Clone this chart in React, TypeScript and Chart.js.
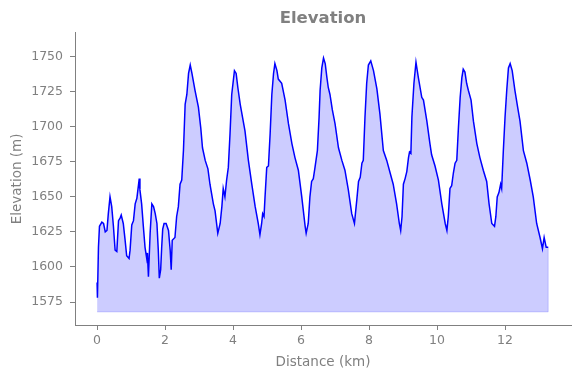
import React, { useEffect, useRef } from "react";
import { Chart, registerables } from "chart.js";
Chart.register(...registerables);

const distanceKm = [
  0.00, 0.01, 0.04, 0.07, 0.14, 0.19, 0.24, 0.29, 0.33, 0.38,
  0.43, 0.48, 0.53, 0.58, 0.63, 0.68, 0.71, 0.77, 0.82, 0.87,
  0.94, 0.97, 1.02, 1.07, 1.12, 1.17, 1.20, 1.24, 1.26, 1.31,
  1.36, 1.41, 1.46, 1.48, 1.51, 1.56, 1.61, 1.66, 1.71, 1.76,
  1.80, 1.83, 1.87, 1.90, 1.93, 1.97, 2.03, 2.10, 2.15, 2.18,
  2.21, 2.29, 2.34, 2.39, 2.44, 2.49, 2.54, 2.59, 2.64, 2.69,
  2.74, 2.79, 2.88, 2.98, 3.05, 3.10, 3.18, 3.26, 3.32, 3.42,
  3.47, 3.55, 3.62, 3.67, 3.71, 3.76, 3.81, 3.86, 3.91, 3.96,
  4.04, 4.09, 4.14, 4.21, 4.35, 4.45, 4.55, 4.65, 4.74, 4.79,
  4.84, 4.87, 4.91, 4.94, 4.99, 5.04, 5.09, 5.14, 5.19, 5.23,
  5.29, 5.33, 5.43, 5.53, 5.63, 5.73, 5.82, 5.92, 6.02, 6.12,
  6.15, 6.21, 6.26, 6.31, 6.36, 6.41, 6.48, 6.53, 6.56, 6.61,
  6.66, 6.71, 6.76, 6.80, 6.85, 6.92, 7.00, 7.10, 7.20, 7.29,
  7.39, 7.49, 7.57, 7.64, 7.69, 7.74, 7.79, 7.83, 7.88, 7.93,
  7.98, 8.05, 8.13, 8.23, 8.32, 8.42, 8.52, 8.62, 8.71, 8.81,
  8.89, 8.93, 8.97, 9.01, 9.06, 9.11, 9.16, 9.19, 9.23, 9.26,
  9.32, 9.38, 9.45, 9.55, 9.60, 9.70, 9.79, 9.84, 9.94, 10.04,
  10.14, 10.24, 10.29, 10.33, 10.38, 10.43, 10.48, 10.53, 10.58, 10.63,
  10.68, 10.73, 10.77, 10.82, 10.87, 10.92, 11.00, 11.07, 11.17, 11.26,
  11.36, 11.46, 11.53, 11.61, 11.69, 11.73, 11.77, 11.82, 11.87, 11.90,
  11.95, 12.00, 12.05, 12.10, 12.15, 12.21, 12.29, 12.37, 12.44, 12.54,
  12.64, 12.74, 12.83, 12.93, 13.03, 13.10, 13.15, 13.21, 13.27,
];

const elevationM = [
  1589, 1578, 1614, 1629, 1632, 1631, 1625, 1626, 1638, 1650,
  1643, 1629, 1612, 1611, 1633, 1635, 1637, 1631, 1620, 1608,
  1606, 1612, 1630, 1633, 1645, 1649, 1655, 1663, 1655, 1645,
  1629, 1614, 1606, 1610, 1593, 1624, 1645, 1643, 1638, 1631,
  1612, 1592, 1598, 1614, 1627, 1631, 1631, 1626, 1612, 1598,
  1619, 1621, 1636, 1643, 1659, 1662, 1683, 1716, 1723, 1738,
  1744, 1738, 1726, 1714, 1699, 1685, 1676, 1670, 1659, 1645,
  1640, 1624, 1631, 1643, 1656, 1650, 1662, 1671, 1695, 1723,
  1740, 1738, 1728, 1716, 1697, 1676, 1659, 1643, 1631, 1623,
  1631, 1638, 1636, 1650, 1671, 1672, 1695, 1723, 1738, 1745,
  1740, 1734, 1731, 1719, 1702, 1688, 1678, 1669, 1650, 1629,
  1624, 1631, 1650, 1661, 1663, 1671, 1683, 1707, 1726, 1742,
  1749, 1745, 1735, 1728, 1723, 1712, 1702, 1685, 1676, 1669,
  1655, 1638, 1631, 1648, 1661, 1664, 1674, 1676, 1707, 1731,
  1744, 1747, 1740, 1727, 1709, 1683, 1676, 1667, 1659, 1645,
  1631, 1626, 1636, 1659, 1663, 1668, 1678, 1682, 1681, 1707,
  1731, 1746, 1735, 1721, 1719, 1704, 1688, 1680, 1672, 1662,
  1645, 1631, 1626, 1636, 1656, 1658, 1667, 1674, 1676, 1700,
  1721, 1735, 1741, 1739, 1731, 1726, 1719, 1704, 1688, 1678,
  1669, 1661, 1645, 1631, 1629, 1636, 1650, 1653, 1659, 1656,
  1683, 1707, 1726, 1742, 1745, 1740, 1726, 1714, 1704, 1683,
  1674, 1662, 1650, 1631, 1621, 1613, 1621, 1614, 1614,
];

const baseElevation = 1568;
const xTicks = [0, 2, 4, 6, 8, 10, 12];
const yTicks = [1575, 1600, 1625, 1650, 1675, 1700, 1725, 1750];
const xRange = [-0.65, 13.94];
const yRange = [1558.6, 1767];

const FONT = "'DejaVu Sans', sans-serif";
const GRAY = "#808080";

export default function App() {
  const ref = useRef<HTMLCanvasElement>(null);
  useEffect(() => {
    const profile = distanceKm.map((x, i) => ({ x, y: elevationM[i] }));
    const last = distanceKm.length - 1;
    const edge = [
      { x: distanceKm[0], y: baseElevation },
      { x: distanceKm[last], y: baseElevation },
      { x: distanceKm[last], y: elevationM[last] },
    ];
    const chart = new Chart(ref.current!, {
      type: "line",
      data: {
        datasets: [
          {
            data: profile,
            borderColor: "#0000ff",
            borderWidth: 1.5,
            backgroundColor: "rgba(0,0,255,0.2)",
            fill: { value: baseElevation },
            pointRadius: 0,
            tension: 0,
            order: 0,
          },
          {
            data: edge,
            borderColor: "rgba(0,0,255,0.2)",
            borderWidth: 1,
            pointRadius: 0,
            fill: false,
            order: 1,
          },
        ],
      },
      options: {
        animation: false,
        responsive: false,
        layout: { padding: { left: 0, right: 9, top: 0, bottom: 0 } },
        plugins: {
          legend: { display: false },
          tooltip: { enabled: false },
          title: {
            display: true,
            text: "Elevation",
            color: GRAY,
            fullSize: false,
            font: { family: FONT, size: 16.5, weight: "bold" },
            padding: { top: 9, bottom: 4 },
          },
        },
        scales: {
          x: {
            type: "linear",
            min: xRange[0],
            max: xRange[1],
            afterBuildTicks: (s: any) => {
              s.ticks = xTicks.map((v) => ({ value: v }));
            },
            afterFit: (s: any) => {
              s.height = 53;
            },
            grid: { drawOnChartArea: false, drawTicks: true, tickLength: 5, color: GRAY },
            border: { color: GRAY, width: 1 },
            ticks: {
              color: GRAY,
              font: { family: FONT, size: 12.5 },
              padding: 3,
              maxRotation: 0,
              callback: (v: any) => String(v),
            },
            title: {
              display: true,
              text: "Distance (km)",
              color: GRAY,
              font: { family: FONT, size: 13.5 },
              padding: { top: 2, bottom: 7 },
            },
          },
          y: {
            type: "linear",
            min: yRange[0],
            max: yRange[1],
            afterBuildTicks: (s: any) => {
              s.ticks = yTicks.map((v) => ({ value: v }));
            },
            afterFit: (s: any) => {
              s.width = 75;
            },
            grid: { drawOnChartArea: false, drawTicks: true, tickLength: 5, color: GRAY },
            border: { color: GRAY, width: 1 },
            ticks: {
              color: GRAY,
              font: { family: FONT, size: 12.5 },
              padding: 7,
              callback: (v: any) => String(v),
            },
            title: {
              display: true,
              text: "Elevation (m)",
              color: GRAY,
              font: { family: FONT, size: 13.5 },
              padding: { top: 9, bottom: 0 },
            },
          },
        },
      },
    });
    return () => chart.destroy();
  }, []);
  return (
    <div style={{ position: "fixed", left: 0, top: 0, width: 580, height: 378, background: "#fff" }}>
      <canvas ref={ref} width={580} height={378} />
    </div>
  );
}
